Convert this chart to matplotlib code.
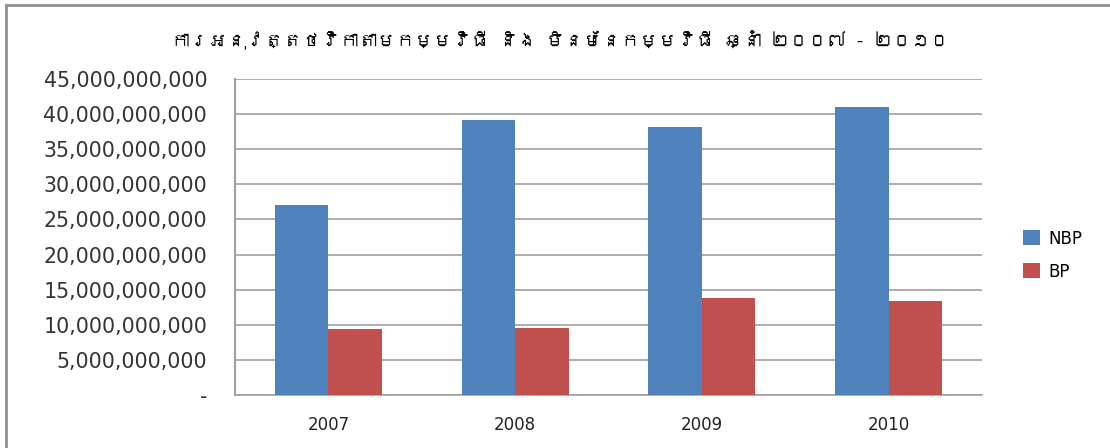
import matplotlib
matplotlib.use("Agg")
import matplotlib.pyplot as plt
from matplotlib import font_manager
from matplotlib.ft2font import FT2Font
from matplotlib.ticker import FuncFormatter
from matplotlib.lines import Line2D
import numpy as np

years = ["2007", "2008", "2009", "2010"]
nbp = [27.1e9, 39.2e9, 38.2e9, 41.0e9]
bp = [9.4e9, 9.55e9, 13.8e9, 13.4e9]
series_names = ["NBP", "BP"]
title = "ការអនុវត្តថវិកាតាមកម្មវិធី និង មិនមែនកម្មវិធី ឆ្នាំ ២០០៧ - ២០១០"


# look for an installed font that can draw Khmer
def khmer_family():
    for f in font_manager.fontManager.ttflist:
        try:
            if 0x1780 in FT2Font(f.fname).get_charmap():
                return f.name
        except Exception:
            pass
    return None


kh = khmer_family()
title_fonts = [kh, "DejaVu Sans"] if kh else ["DejaVu Sans"]

fig = plt.figure(figsize=(11.1, 4.48), dpi=100)
ax = fig.add_axes([235 / 1110, 1 - 395 / 448, (982 - 235) / 1110, (395 - 79) / 448])

x = np.arange(len(years))
w = 0.286
ax.bar(x - w / 2, nbp, w, color="#4F81BD", label=series_names[0], zorder=3)
ax.bar(x + w / 2, bp, w, color="#C0504D", label=series_names[1], zorder=3)

ax.set_xlim(-0.5, len(years) - 0.5)
ax.set_ylim(0, 45e9)
ax.set_yticks(np.arange(0, 45e9 + 1, 5e9))
ax.yaxis.set_major_formatter(FuncFormatter(lambda v, p: "-" if v == 0 else f"{v:,.0f}"))
ax.set_xticks(x)
ax.set_xticklabels(years)
ax.grid(axis="y", color="#A0A0A0", linewidth=1.2, zorder=0)
ax.tick_params(axis="y", length=0, labelsize=14.8, labelcolor="#333333", pad=20)
ax.tick_params(axis="x", length=0, labelsize=12, labelcolor="#222222", pad=15)
for s in ["top", "right"]:
    ax.spines[s].set_visible(False)
ax.spines["left"].set_color("#A0A0A0")
ax.spines["left"].set_linewidth(1.5)
ax.spines["bottom"].set_color("#A0A0A0")
ax.spines["bottom"].set_linewidth(1.2)

fig.text(0.505, 1 - 40 / 448, title, ha="center", va="center", fontsize=13.5,
         fontweight="bold", family=title_fonts)

ax.legend(loc="center left", bbox_to_anchor=(1.035, 0.443), frameon=False,
          fontsize=12, handlelength=1.0, handleheight=1.0, labelspacing=0.9,
          handletextpad=0.5)

# outer chart frame (top and left edges visible)
fig.add_artist(Line2D([5.5 / 1110, 5.5 / 1110], [0, 1 - 5.5 / 448], transform=fig.transFigure,
                      color="#909090", linewidth=2))
fig.add_artist(Line2D([5.5 / 1110, 1], [1 - 5.5 / 448, 1 - 5.5 / 448], transform=fig.transFigure,
                      color="#909090", linewidth=2))

fig.savefig("out.png", dpi=100)
